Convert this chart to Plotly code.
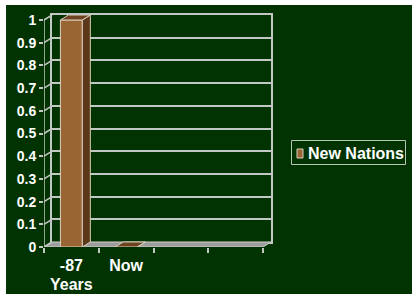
import plotly.graph_objects as go

# ---- data ----
categories = ["-87", "Now"]
values = [1, 0]
series_name = "New Nations"
y_tick_values = [0, 0.1, 0.2, 0.3, 0.4, 0.5, 0.6, 0.7, 0.8, 0.9, 1]
y_tick_labels = ["0", "0.1", "0.2", "0.3", "0.4", "0.5", "0.6", "0.7", "0.8", "0.9", "1"]
x_title = "Years"
n_slots = 4  # category slots on the axis

# ---- geometry / style ----
W, H = 412, 294
ML, MR, MT, MB = 44, 141, 15, 47
PW, PH = W - ML - MR, H - MT - MB          # 227 x 232
DEPTH_X, DEPTH_Y = 8, 5                    # 3D offset in px
slot_px = (PW - DEPTH_X) / n_slots         # px per category
unit_px = PH - DEPTH_Y                     # px per y unit
dx = DEPTH_X / slot_px
dy = DEPTH_Y / unit_px
bw = 0.4

BG = "#003300"
GRID = "#c4c8c4"
FRONT = "#996633"
SIDE = "#5a3818"
TOP = "#6e4420"
EDGE = "#d8d0c0"
FLOOR = "#9c9c9c"
FONT = "Liberation Sans, Arial, sans-serif"


def px_x(p):
    return (p - ML) / PW


def px_y(p):
    return (H - MB - p) / PH


xs = list(range(len(categories)))

fig = go.Figure()

# invisible trace so the back-wall subplot is drawn
fig.add_trace(go.Scatter(x=[None], y=[None], xaxis="x", yaxis="y",
                         showlegend=False, hoverinfo="skip"))

# side faces and top faces computed from values
side_x, side_y, top_x, top_y = [], [], [], []
for x, v in zip(xs, values):
    r = x + bw / 2
    l = x - bw / 2
    side_x += [r, r, r + dx, r + dx, r, None]
    side_y += [0, v, v + dy, dy, 0, None]
    top_x += [l, r, r + dx, l + dx, l, None]
    top_y += [v, v, v + dy, v + dy, v, None]

fig.add_trace(go.Bar(
    x=xs, y=values, width=bw, name=series_name,
    marker=dict(color=FRONT, line=dict(color=EDGE, width=1)),
    xaxis="x2", yaxis="y2", showlegend=False))

fig.add_trace(go.Scatter(x=side_x, y=side_y, mode="lines", fill="toself",
                         fillcolor=SIDE, line=dict(color=EDGE, width=1),
                         xaxis="x2", yaxis="y2", showlegend=False, hoverinfo="skip"))
fig.add_trace(go.Scatter(x=top_x, y=top_y, mode="lines", fill="toself",
                         fillcolor=TOP, line=dict(color=EDGE, width=1),
                         xaxis="x2", yaxis="y2", showlegend=False, hoverinfo="skip"))

# front y-axis line + slanted connectors to back wall
ax_x, ax_y = [-0.5, -0.5, None], [0, 1, None]
for t in y_tick_values:
    ax_x += [-0.5, -0.5 + dx, None]
    ax_y += [t, t + dy, None]
fig.add_trace(go.Scatter(x=ax_x, y=ax_y, mode="lines",
                         line=dict(color=GRID, width=1.5),
                         xaxis="x2", yaxis="y2", showlegend=False, hoverinfo="skip"))

x_end = -0.5 + n_slots
shapes = [
    # dark green background, leaving thin white strips at top/left
    dict(type="rect", xref="paper", yref="paper",
         x0=px_x(6), x1=px_x(W + 5), y0=px_y(H + 5), y1=px_y(5),
         fillcolor=BG, line=dict(width=0), layer="below"),
    # floor
    dict(type="path", xref="x2", yref="y2",
         path=f"M {-0.5},0 L {x_end},0 L {x_end + dx},{dy} L {-0.5 + dx},{dy} Z",
         fillcolor=FLOOR, line=dict(color="#d0d0d0", width=1), layer="below"),
    # legend box
    dict(type="rect", xref="paper", yref="paper",
         x0=px_x(291.5), x1=px_x(405.5), y0=px_y(164.5), y1=px_y(140.5),
         fillcolor="rgba(0,0,0,0)", line=dict(color="#b8c4b8", width=1), layer="above"),
    # legend swatch
    dict(type="rect", xref="paper", yref="paper",
         x0=px_x(297), x1=px_x(303), y0=px_y(158), y1=px_y(149),
         fillcolor=FRONT, line=dict(color=EDGE, width=1), layer="above"),
]

fig.update_layout(
    width=W, height=H,
    margin=dict(l=ML, r=MR, t=MT, b=MB, autoexpand=False),
    paper_bgcolor="white", plot_bgcolor="rgba(0,0,0,0)",
    template="none",
    showlegend=False,
    font=dict(family=FONT, color="white", size=14, weight="bold"),
    shapes=shapes,
    # back wall (drawn first)
    xaxis=dict(domain=[DEPTH_X / PW, 1], range=[-0.5, n_slots - 0.5], anchor="y",
               showgrid=False, zeroline=False, showticklabels=False, ticks="",
               showline=True, mirror=True, linecolor=GRID, linewidth=1.5),
    yaxis=dict(domain=[DEPTH_Y / PH, 1], range=[0, 1], anchor="x",
               showgrid=True, gridcolor=GRID, gridwidth=1.5, tick0=0, dtick=0.1,
               zeroline=False, showticklabels=False, ticks="",
               showline=True, mirror=True, linecolor=GRID, linewidth=1.5),
    # front axes
    xaxis2=dict(domain=[0, 1], range=[-0.5, -0.5 + PW / slot_px], anchor="y2",
                tickmode="array", tickvals=xs, ticktext=categories, ticks="",
                ticklabelstandoff=7,
                showgrid=False, zeroline=False, showline=False,
                tickfont=dict(size=16, color="white", family=FONT, weight="bold"),
                minor=dict(ticks="outside", tickmode="array",
                           tickvals=[i - 0.5 for i in range(n_slots + 1)],
                           ticklen=5, tickwidth=1.5, tickcolor=GRID, showgrid=False)),
    yaxis2=dict(domain=[0, 1], range=[0, PH / unit_px], anchor="x2",
                tickmode="array", tickvals=y_tick_values, ticktext=y_tick_labels,
                ticks="outside", ticklen=4, tickwidth=1.5, tickcolor=GRID,
                showgrid=False, zeroline=False, showline=False,
                tickfont=dict(size=14, color="white", family=FONT, weight="bold")),
    annotations=[
        dict(text=x_title, xref="x2", yref="paper", x=0, y=px_y(284),
             xanchor="center", yanchor="middle", showarrow=False,
             font=dict(size=16, color="white", family=FONT, weight="bold")),
        dict(text=series_name, xref="paper", yref="paper", x=px_x(307), y=px_y(153),
             xanchor="left", yanchor="middle", showarrow=False, borderpad=0,
             font=dict(size=16, color="white", family=FONT, weight="bold")),
    ],
)

fig.write_html("out.html", config={"displayModeBar": False},
               post_script="document.body.style.margin='0';")
